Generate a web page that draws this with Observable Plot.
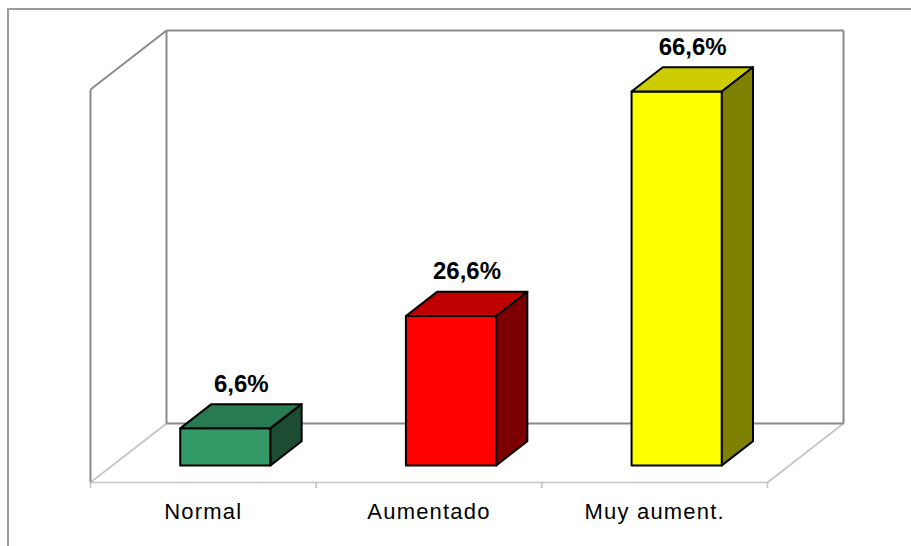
<!DOCTYPE html>
<html>
<head>
<meta charset="utf-8">
<script src="https://cdn.jsdelivr.net/npm/d3@7"></script>
<script src="https://cdn.jsdelivr.net/npm/@observablehq/plot@0.6"></script>
<style>
  html, body { margin: 0; padding: 0; background: #fff; overflow: hidden; }
  #chart { position: relative; width: 911px; height: 546px; }
  #border { position: absolute; left: 7px; top: 8px; width: 1000px; height: 1000px;
            border-top: 2px solid #9c9c9c; border-left: 2px solid #9c9c9c; pointer-events: none; }
</style>
</head>
<body>
<div id="chart"><div id="border"></div></div>
<script>
// Categorías y porcentajes
const categories = ["Normal", "Aumentado", "Muy aument."];
const values = [6.6, 26.6, 66.6];
const frontColors = ["#339966", "#ff0000", "#ffff00"];
const topColors = ["#287a50", "#c00000", "#cccc00"];
const sideColors = ["#1c4d33", "#7d0000", "#808000"];
const floorTicks = [0, 1, 2, 3];
const yMax = 70;

// Plot geometry (pixels)
const width = 911, height = 546;
const plotLeft = 90, plotRight = 767, floorY = 482, topY = 89;
const depthX = 76, depthY = 59;      // oblique offset of the back wall
const pxPerX = (plotRight - plotLeft) / categories.length;
const pxPerY = (floorY - topY) / yMax;
const DX = depthX / pxPerX;           // depth offset in data units
const DY = depthY / pxPerY;

// oblique projection: a point (x, y) pushed back by depth d ∈ [0, 1]
const P = (x, y, d) => ({x: x + d * DX, y: y + d * DY});

// bar footprint inside each category band / depth slab
const barX0 = 0.30, barX1 = 0.70, barD0 = 0.29, barD1 = 0.70;

const faces = values.flatMap((v, i) => {
  const x0 = i + barX0, x1 = i + barX1;
  const front = [P(x0, 0, barD0), P(x1, 0, barD0), P(x1, v, barD0), P(x0, v, barD0)]
    .map(p => ({...p, face: `f${i}`, fill: frontColors[i]}));
  const top = [P(x0, v, barD0), P(x1, v, barD0), P(x1, v, barD1), P(x0, v, barD1)]
    .map(p => ({...p, face: `t${i}`, fill: topColors[i]}));
  const side = [P(x1, 0, barD0), P(x1, 0, barD1), P(x1, v, barD1), P(x1, v, barD0)]
    .map(p => ({...p, face: `s${i}`, fill: sideColors[i]}));
  return [...front, ...top, ...side];
});

const n = categories.length;
const seg = (a, b) => ({x1: a.x, y1: a.y, x2: b.x, y2: b.y});
// back wall and left wall edges
const wallEdges = [
  seg(P(0, 0, 1), P(n, 0, 1)),
  seg(P(n, 0, 1), P(n, yMax, 1)),
  seg(P(n, yMax, 1), P(0, yMax, 1)),
  seg(P(0, yMax, 1), P(0, 0, 1)),
  seg(P(0, yMax, 0), P(0, yMax, 1)),
  seg(P(0, 0, 0), P(0, yMax, 0))
];
// floor edges
const floorEdges = [
  seg(P(0, 0, 0), P(n, 0, 0)),
  seg(P(n, 0, 0), P(n, 0, 1)),
  seg(P(0, 0, 0), P(0, 0, 1))
];

const fmt = v => v.toFixed(1).replace(".", ",") + "%";

const chart = Plot.plot({
  width, height,
  marginLeft: plotLeft,
  marginRight: width - plotRight,
  marginTop: topY,
  marginBottom: height - floorY,
  x: {domain: [0, n], axis: null},
  y: {domain: [0, yMax], axis: null},
  color: {type: "identity"},
  style: {fontFamily: "'Liberation Sans', Arial, sans-serif", background: "#fff", overflow: "visible"},
  marks: [
    Plot.link(floorEdges, {x1: "x1", y1: "y1", x2: "x2", y2: "y2", stroke: "#c4c4c4", strokeWidth: 1.6}),
    Plot.link(wallEdges, {x1: "x1", y1: "y1", x2: "x2", y2: "y2", stroke: "#8a8a8a", strokeWidth: 2}),
    Plot.ruleX(floorTicks, {x: d => d, y1: 0, y2: 0, insetBottom: -6, stroke: "#c4c4c4", strokeWidth: 1.6}),
    Plot.line(faces, {x: "x", y: "y", z: "face", fill: "fill", stroke: "#000", strokeWidth: 2,
                      curve: "linear-closed", strokeLinejoin: "round"}),
    Plot.text(values, {
      x: (d, i) => i + 0.5 + 0.5 * DX,
      y: d => d + 0.5 * DY,
      text: fmt, dy: -32,
      fontSize: 24, fontWeight: "bold", fill: "#000"
    }),
    Plot.text(categories, {
      x: (d, i) => i + 0.5, y: 0, text: d => d, dy: 29,
      fontSize: 22, fill: "#000"
    })
  ]
});

// slightly loose tracking on the category names
d3.select(chart).selectAll("text")
  .filter(function () { return categories.includes(this.textContent); })
  .style("letter-spacing", "1.2px");

document.getElementById("chart").prepend(chart);
</script>
</body>
</html>
